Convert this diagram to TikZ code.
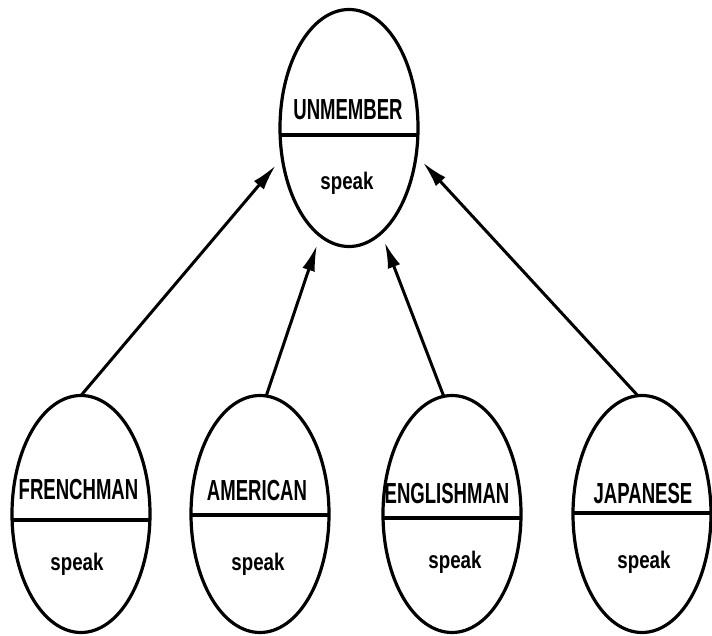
\documentclass[tikz,border=0pt]{standalone}
\usepackage{fontspec}
\newfontfamily\condsans[FakeStretch=0.64]{Liberation Sans}
\newfontfamily\speakfont[FakeStretch=0.78]{Liberation Sans}
\usetikzlibrary{shapes.geometric,arrows.meta,calc}
\begin{document}
\begin{tikzpicture}[x=1pt,y=-1pt,
  cls/.style={ellipse, draw, line width=3.2pt, minimum width=138pt,
    minimum height=237pt, inner sep=0pt, outer sep=0pt},
  divider/.style={line width=3.2pt},
  title/.style={anchor=base, inner sep=0pt,
    font=\condsans\bfseries\fontsize{29}{29}\selectfont},
  op/.style={anchor=base, inner sep=0pt,
    font=\speakfont\bfseries\fontsize{24}{24}\selectfont},
  isa/.style={line width=3pt, -{Latex[length=26pt,width=13pt]},
    shorten >=10pt}
]
\useasboundingbox (0,0) rectangle (712,636);

% class ellipses
\node[cls] (un) at (349,128) {};
\node[cls] (fr) at (81,514) {};
\node[cls] (am) at (260,514) {};
\node[cls] (en) at (452,514) {};
\node[cls] (ja) at (642,514) {};

% name / operation dividers
\draw[divider] ($(un.west)+(0,7)$) -- ($(un.east)+(0,7)$);
\draw[divider] ($(fr.west)+(0,6)$) -- ($(fr.east)+(0,6)$);
\draw[divider] ($(am.west)+(0,1)$) -- ($(am.east)+(0,1)$);
\draw[divider] ($(en.west)+(0,4)$) -- ($(en.east)+(0,4)$);
\draw[divider] ($(ja.west)+(0,-1)$) -- ($(ja.east)+(0,-1)$);

% class names
\node[title] (un-name) at (348,120) {UNMEMBER};
\node[title] (fr-name) at (78.5,499) {FRENCHMAN};
\node[title] (am-name) at (257,500) {AMERICAN};
\node[title] (en-name) at (447,503) {ENGLISHMAN};
\node[title] (ja-name) at (643,503) {JAPANESE};

% operations
\node[op] (un-op) at (347,190) {speak};
\node[op] (fr-op) at (77,570) {speak};
\node[op] (am-op) at (258,570) {speak};
\node[op] (en-op) at (455,568) {speak};
\node[op] (ja-op) at (644,568) {speak};

% inheritance arrows
\draw[isa] (fr.90) -- (un.204);
\draw[isa] (am.87) -- (un.255);
\draw[isa] (en.94) -- (un.287);
\draw[isa] (ja.92) -- (un.338);
\end{tikzpicture}
\end{document}
